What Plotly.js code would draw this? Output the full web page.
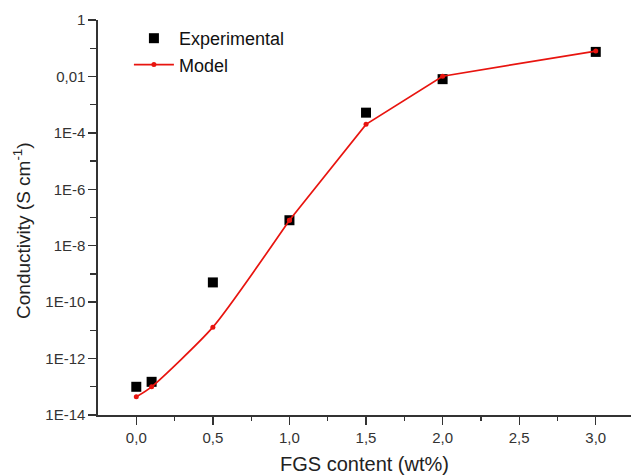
<!DOCTYPE html>
<html>
<head>
<meta charset="utf-8">
<script src="https://cdn.plot.ly/plotly-3.0.1.min.js"></script>
<style>html,body{margin:0;padding:0;background:#fff;}#chart{width:631px;height:476px;}</style>
</head>
<body>
<div id="chart"></div>
<script>
var fgsContent = [0, 0.1, 0.5, 1.0, 1.5, 2.0, 3.0];
var experimental = [1.0e-13, 1.5e-13, 5.0e-10, 8.0e-8, 5.2e-4, 8.0e-3, 0.074];
var model = [4.4e-14, 1.0e-13, 1.3e-11, 8.0e-8, 2.0e-4, 1.02e-2, 0.079];
var xTickVals = [0, 0.5, 1.0, 1.5, 2.0, 2.5, 3.0];
var xTickText = ["0,0", "0,5", "1,0", "1,5", "2,0", "2,5", "3,0"];
var yTickVals = [1e-14, 1e-12, 1e-10, 1e-8, 1e-6, 1e-4, 1e-2, 1];
var yTickText = ["1E-14", "1E-12", "1E-10", "1E-8", "1E-6", "1E-4", "0,01", "1"];
var xTitle = "FGS content (wt%)";
var yTitle = "Conductivity (S cm<sup>-1</sup>)";

var font = "Liberation Sans, Arial, sans-serif";
var red = "#e8140f";
var splitAt = 3; // low-content part drawn smooth, the rest straight
var traces = [
  {
    x: fgsContent, y: experimental, name: "Experimental", mode: "markers", type: "scatter",
    marker: {symbol: "square", size: 10, color: "#000"}
  },
  {
    x: fgsContent.slice(0, splitAt + 1), y: model.slice(0, splitAt + 1), name: "Model",
    mode: "lines+markers", type: "scatter", legendgroup: "model",
    line: {color: red, width: 1.7, shape: "spline", smoothing: 0.6},
    marker: {symbol: "circle", size: 5, color: red}
  },
  {
    x: fgsContent.slice(splitAt), y: model.slice(splitAt), name: "Model",
    mode: "lines+markers", type: "scatter", legendgroup: "model", showlegend: false,
    line: {color: red, width: 1.7, shape: "linear"},
    marker: {symbol: "circle", size: 5, color: red}
  }
];
var layout = {
  width: 631, height: 476,
  margin: {l: 98, r: 0, t: 20, b: 61},
  paper_bgcolor: "#fff", plot_bgcolor: "#fff",
  font: {family: font, color: "#222"},
  showlegend: true,
  legend: {x: 0.058, y: 1.0, xanchor: "left", yanchor: "top", bgcolor: "rgba(0,0,0,0)",
           font: {size: 18, color: "#111"}, itemwidth: 40, tracegroupgap: 0},
  xaxis: {
    range: [-0.25, 3.23], showgrid: false, zeroline: false,
    showline: true, linecolor: "#333", linewidth: 1.6,
    ticks: "outside", ticklen: 8, tickwidth: 1.3, tickcolor: "#333",
    tickvals: xTickVals, ticktext: xTickText,
    tickfont: {size: 15, color: "#333"},
    minor: {tickvals: [0.25, 0.75, 1.25, 1.75, 2.25, 2.75], ticks: "outside", ticklen: 4, tickwidth: 1.2, tickcolor: "#333", showgrid: false},
    title: {text: xTitle, font: {size: 20, color: "#222"}, standoff: 12}
  },
  yaxis: {
    type: "log", range: [-14, 0], showgrid: false, zeroline: false,
    showline: true, linecolor: "#333", linewidth: 1.6,
    ticks: "outside", ticklen: 8, tickwidth: 1.3, tickcolor: "#333",
    tickvals: yTickVals, ticktext: yTickText,
    tickfont: {size: 15, color: "#333"},
    minor: {tickvals: [1e-13, 1e-11, 1e-9, 1e-7, 1e-5, 1e-3, 1e-1], ticks: "outside", ticklen: 6, tickwidth: 1.2, tickcolor: "#333", showgrid: false}
  },
  annotations: [
    {text: yTitle, xref: "paper", yref: "paper", x: 0, y: 0.466, xshift: -76,
     xanchor: "center", yanchor: "middle", textangle: -90, showarrow: false,
     font: {size: 19, color: "#222", family: font}}
  ]
};
Plotly.newPlot("chart", traces, layout, {displayModeBar: false, staticPlot: true});
</script>
</body>
</html>
